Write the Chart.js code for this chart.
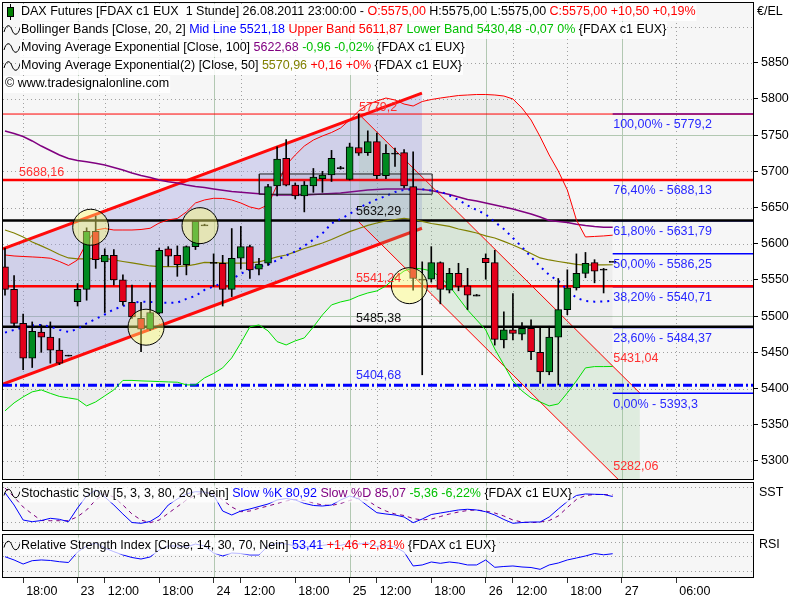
<!DOCTYPE html>
<html>
<head>
<meta charset="utf-8">
<script src="https://cdn.jsdelivr.net/npm/chart.js@4.4.1/dist/chart.umd.min.js"></script>
<style>
  html, body { margin:0; padding:0; background:#fff; }
  body { width:800px; height:600px; position:relative; overflow:hidden; }
  canvas { position:absolute; left:0; }
</style>
</head>
<body>
<canvas id="main" width="800" height="480" style="top:0px"></canvas>
<canvas id="sst" width="800" height="51" style="top:481px"></canvas>
<canvas id="rsi" width="800" height="68" style="top:532px"></canvas>
<script>
// ---------------- DATA (hourly bars, index 0 = 22.08 16:00) ----------------
const open  = [5568,5537,5490,5442,5478,5471,5453,5446,5520,5537,5617,5575,5584,5550,5519,5497,5482,5504,5593,5584,5571,5596,5626,5574,5573,5537,5580,5596,5565,5573,5680,5718,5681,5666,5680,5690,5695,5705,5689,5733,5726,5741,5694,5725,5726,5679,5551,5551,5574,5536,5559,5542,5529,5580,5574,5467,5481,5475,5483,5450,5423,5471,5509,5539,5559,5574,5564.5,5575];
const high  = [5594,5556,5503,5492,5488,5492,5469,5446,5545,5622,5638,5593,5592,5557,5543,5519,5546,5594,5596,5597,5597,5631,5627,5586,5584,5621,5624,5598,5580,5682,5734,5744,5684,5686,5704,5700,5729,5707,5739,5779.2,5756,5753,5737,5732,5730,5727,5575,5596,5575,5566,5573,5566,5530,5586,5591,5506,5531,5491,5495,5486,5486,5552,5564,5586,5588,5578,5566,5575];
const low   = [5529,5485,5426,5429,5450,5435,5433,5445,5514,5522,5566,5505,5543,5515,5497,5451,5480,5503,5569,5555,5557,5592,5625,5541,5514,5527,5565,5552,5557,5570,5666,5680,5662,5644,5671,5671,5686,5703,5688,5722,5722,5690,5690,5707,5677,5536,5419,5547,5517,5532,5535,5509,5528,5551,5460,5456,5467,5467,5440,5407,5419,5405,5502,5536,5553,5546,5532,5575];
const close = [5537,5490,5442,5479,5471,5453,5435,5445,5537,5617,5578,5584,5550,5520,5499,5482,5505,5591,5583,5571,5596,5631,5625,5573,5537,5580,5596,5564,5572,5679,5717,5681,5666,5681,5692,5695,5718,5704,5734,5725,5741,5694,5725,5724,5680,5552,5550,5574,5537,5559,5541,5529,5528,5574,5468,5481,5476,5483,5451,5423,5471,5509,5539,5559,5573,5562,5564,5575];

const bbMid   = [5477.2,5481,5484.4,5487.2,5487.9,5485.5,5481,5478.2,5482.3,5489.9,5496.1,5502.4,5509.3,5513.7,5518.5,5520,5519.6,5518.6,5518.6,5518.6,5523.8,5527.9,5536.2,5541,5545.9,5551.4,5558.3,5565.2,5568.9,5570.7,5577.6,5583.8,5589.4,5597,5605.7,5614.2,5628,5634.2,5641.1,5649.4,5655.6,5661.2,5666,5671.5,5674.3,5675.3,5675.3,5673.6,5672.2,5666.7,5660.5,5652.9,5646.7,5640.5,5630.1,5620.4,5608,5595.6,5581.8,5568.6,5556.9,5548.6,5536.2,5525.1,5521,5520,5520.3,5521.18];
const bbUpper = [5584.5,5583.1,5582.4,5581.8,5581.1,5580,5575.5,5570,5577.6,5601.1,5619,5621.1,5619,5619,5619,5619.7,5621.4,5628.7,5632.9,5634.9,5643.9,5656.3,5660.5,5662.8,5662.6,5660.5,5656.3,5650.8,5648,5653.6,5681.2,5708.8,5722.6,5735,5743.3,5748.9,5753.7,5759.9,5771,5783.4,5792.4,5797.2,5801.3,5798.6,5793,5790.3,5796.5,5799.3,5801.3,5803.1,5804.8,5805.5,5806.2,5806.2,5805.5,5804.1,5800,5787.5,5771,5747.9,5722.6,5700.5,5674.3,5632.9,5609.4,5610.1,5610.8,5611.87];
const bbLower = [5369.1,5380.1,5388.4,5395.4,5398.1,5393.3,5389.1,5387,5385,5376,5381.5,5389.8,5398.1,5411.2,5411.2,5410.5,5410.1,5409.6,5409.1,5408.7,5405,5405,5414.7,5420.9,5428.5,5442.3,5463,5485.1,5487.9,5479.6,5464.8,5460.2,5465.8,5469.9,5485.1,5501.7,5515.5,5519.6,5522.4,5527.9,5532,5534.8,5541.7,5552.8,5562.4,5566.6,5565.2,5562.4,5554.1,5541.7,5525.1,5508.6,5494.8,5481,5454.7,5432.6,5410.5,5396.7,5387,5381.5,5376,5378.7,5393.9,5410.5,5428.5,5430.3,5430.3,5430.48];
const ema100  = [5755.8,5752.3,5748.2,5742,5735,5728.8,5722.6,5717.8,5715,5713.4,5711.2,5708.8,5705.3,5701.9,5697.8,5694.3,5691.6,5688.1,5685.8,5684,5681.2,5679.1,5677.7,5675.7,5673.9,5672.2,5671.1,5670.1,5669.2,5668.1,5667.4,5667.4,5667.4,5667.4,5668.1,5668.8,5669.5,5670.1,5671.5,5672.9,5674.3,5675,5675.7,5675.7,5675.7,5675.7,5675,5673.6,5670.8,5668.1,5664.6,5661.2,5659.1,5656.3,5653.6,5650.8,5648,5644.6,5641.1,5637,5632.2,5630.8,5629.2,5627,5625.3,5623.9,5622.8,5622.68];
const ema50   = [5619,5614.9,5609.4,5602.5,5597,5591.4,5585.2,5580.4,5579,5579,5579.7,5579.7,5577.6,5575.5,5573.5,5571.4,5569.3,5568.4,5568.4,5568.4,5569.3,5571.4,5574.2,5573.9,5573.5,5573.1,5573.1,5573.5,5574.9,5578.3,5581.8,5584.5,5588.7,5593.5,5597,5601.1,5605.9,5611.5,5616.7,5621.1,5625.3,5628.7,5631.5,5633.5,5635.2,5633.5,5630.8,5628,5626,5623.9,5620.4,5617.7,5614.9,5610.8,5608,5603.2,5598.3,5592.8,5586.6,5580.4,5577.6,5575.5,5573.5,5571.4,5570.6,5570.7,5570.8,5570.96];

const stochK = [69.7,48.6,22.9,20,22,25.8,24.1,20,43.5,64.1,74.3,62.3,48.6,33.2,18.6,17.3,20.4,29.8,48.6,58.9,67.5,71.4,70.9,65.8,38.3,31.5,38.3,41.8,46.1,50.3,57.2,59.8,57.2,51.5,47.8,46.9,48.6,57.2,64.1,58.9,46.9,35.4,33.2,31.5,28.1,18.3,24.6,32.3,34.9,37.5,40.1,41.3,40.1,37.1,31.5,23.8,17.3,18.6,19.5,19.5,28.1,41.8,54.6,64.9,67.5,67,66.6,63.2];
const stochD = [77.8,62.3,45.2,33.2,22,21.7,21.7,21.7,28.6,40.1,57.2,67.5,62.3,48.6,33.2,22.9,18.3,22.9,34.4,45.7,57.2,65.8,70.1,69.2,57.2,45.2,37.1,38.3,43,46.9,51.2,55.5,58.1,56.3,52.1,48.6,47.8,51.2,56.3,60.6,56.3,45.7,38.3,33.2,30.6,25.5,22.9,24.6,28.9,33.2,36.6,39.2,40.1,38.3,34.9,29.8,22.9,19.5,18.3,19.5,22,29.8,44.3,58.1,64.9,66.6,66.6,65.8];
const rsi    = [49.3,44.8,39.2,43.8,44.8,44.1,42.4,41.3,55.8,64.1,68.2,61.3,56.2,51.7,48.2,46.1,48.9,58.6,64.1,64.1,62.7,66.8,64.1,54.4,50.3,54.4,53.7,51.7,51.7,64.1,68.2,66.8,64.1,62.7,64.1,64.8,66.8,64.8,68.2,66.8,68.2,63.4,65.4,62.7,55.8,36.5,37.9,42,40.2,42,40.6,37.9,37.9,44.8,34.7,35.8,36.5,35.1,34.4,31.9,37.9,40.6,44.8,47.5,50.3,53.7,51.95,53.41];

// drawing tools (bar index / price)
const upChannelX     = [-0.22, 45.97];
const upChannelUpper = [5592.8, 5808];
const upChannelLower = [5406, 5621.4];
const downChannelX     = [39, 70];
const downChannelUpper = [5779.2, 5393.7];
const downChannelLower = [5630.2, 5244.7];
const downChannelEnd   = [5431.04, 5282.06];   // values at bar 67
const levelValues = [5779.2, 5688.16, 5632.29, 5541.24, 5485.38, 5404.68];
const fibPct    = [100, 76.4, 61.8, 50, 38.2, 23.6, 0];
const fibValues = [5779.2, 5688.13, 5631.79, 5586.25, 5540.71, 5484.37, 5393.3];
const boxX = [28.04, 47.1];
const boxY = [5668.4, 5696.4];
const circleX = [9.45, 21.5, 15.55, 44.58];
const circleY = [5622.8, 5625, 5484.7, 5542.1];

// axes
const yTickValues = [5850,5800,5750,5700,5650,5600,5550,5500,5450,5400,5350,5300];
const yGridValues = [5900,5850,5800,5750,5700,5650,5600,5550,5500,5450,5400,5350,5300];
const xTickValues = [2,8,11,17,23,26,32,38,41,47,53,56,62,68,74];
const xTickLabels = ['18:00','23','12:00','18:00','24','12:00','18:00','25','12:00','18:00','26','12:00','18:00','27','06:00'];

// ---------------- STYLE ----------------
const FONT = '"Liberation Sans", Arial, sans-serif';
const FS = 12.5;
Chart.defaults.font.family = FONT;
Chart.defaults.font.size = FS;
Chart.defaults.animation = false;

const X_MIN = -0.22, X_MAX = 82.47;
const fmt = v => String(v).replace('.', ',');
const pts = arr => arr.map((v, i) => ({x: i, y: v}));
const seg = (xs, ys) => xs.map((x, k) => ({x, y: ys[k]}));
const dayTicks = xTickValues.filter((v, k) => xTickLabels[k].length <= 2);
const otherTicks = xTickValues.filter((v, k) => xTickLabels[k].length > 2);

const panel = {
  id: 'panel',
  beforeDatasetsDraw(chart, _a, o) {
    const {ctx, chartArea: a} = chart;
    const xs = chart.scales.x, ys = chart.scales.y;
    ctx.save();
    ctx.fillStyle = o.bg;
    ctx.fillRect(a.left, a.top, a.right - a.left, a.bottom - a.top);
    ctx.lineWidth = 1;
    const H = (v, col, dash) => {
      const p = Math.round(ys.getPixelForValue(v)) + 0.5;
      ctx.strokeStyle = col; ctx.setLineDash(dash);
      ctx.beginPath(); ctx.moveTo(a.left, p); ctx.lineTo(a.right, p); ctx.stroke();
    };
    const V = (v, col, dash) => {
      const p = Math.round(xs.getPixelForValue(v)) + 0.5;
      ctx.strokeStyle = col; ctx.setLineDash(dash);
      ctx.beginPath(); ctx.moveTo(p, a.top); ctx.lineTo(p, a.bottom); ctx.stroke();
    };
    (o.yDot || []).forEach(v => H(v, o.dotColor, [1, 3]));
    (o.xDot || []).forEach(v => V(v, o.dotColor, [1, 3]));
    (o.ySolid || []).forEach(v => H(v, o.solidColor, []));
    (o.xSolid || []).forEach(v => V(v, o.solidColor, []));
    ctx.restore();
  },
  afterDraw(chart) {
    const {ctx, chartArea: a} = chart;
    ctx.save();
    ctx.strokeStyle = '#000'; ctx.lineWidth = 1; ctx.setLineDash([]);
    ctx.strokeRect(Math.round(a.left) - 0.5, Math.round(a.top) - 0.5,
                   Math.round(a.right - a.left) + 1, Math.round(a.bottom - a.top) + 1);
    ctx.restore();
  }
};

function drawRuns(ctx, x, y, list, bg) {
  ctx.save();
  ctx.font = FS + 'px ' + FONT;
  ctx.textBaseline = 'middle'; ctx.textAlign = 'left';
  let w = 0; list.forEach(r => { w += ctx.measureText(r[0]).width; });
  if (bg) { ctx.fillStyle = bg; ctx.fillRect(x - 1, y - 8, w + 2, 17); }
  let cx = x;
  list.forEach(([t, c]) => { ctx.fillStyle = c; ctx.fillText(t, cx, y); cx += ctx.measureText(t).width; });
  ctx.restore();
}
function wave(ctx, x, y) {
  ctx.save(); ctx.strokeStyle = '#000'; ctx.lineWidth = 1; ctx.setLineDash([]);
  ctx.beginPath(); ctx.moveTo(x, y + 2);
  ctx.bezierCurveTo(x + 2, y - 6, x + 6, y - 6, x + 8, y);
  ctx.bezierCurveTo(x + 10, y + 6, x + 14, y + 6, x + 16, y - 2);
  ctx.stroke(); ctx.restore();
}

const BLK = '#000', RED = '#ff0000', BLU = '#0000ff', GRN = '#00c000', PUR = '#800080', OLV = '#808000';

const levelStyle = [
  {color: RED, width: 1, dash: []},
  {color: RED, width: 2.5, dash: []},
  {color: BLK, width: 2.5, dash: []},
  {color: RED, width: 2.5, dash: []},
  {color: BLK, width: 2.5, dash: []},
  {color: BLU, width: 3, dash: [9, 3, 2, 3]}
];
const levelText = [
  {color: '#ff3030', at: 39.03, dy: -6.5},
  {color: '#ff3030', at: 1.55, dy: -7.5},
  {color: '#101010', at: 38.7, dy: -8.7},
  {color: '#ff3030', at: 38.7, dy: -7.3},
  {color: '#101010', at: 38.7, dy: -8.2},
  {color: '#2828ff', at: 38.7, dy: -9.3}
];

const mainText = {
  id: 'mainText',
  afterDatasetsDraw(chart) {
    const {ctx} = chart; const xs = chart.scales.x, ys = chart.scales.y;
    ctx.save();
    ctx.font = FS + 'px ' + FONT; ctx.textBaseline = 'middle'; ctx.textAlign = 'left';
    levelValues.forEach((v, k) => {
      ctx.fillStyle = levelText[k].color;
      ctx.fillText(fmt(v), xs.getPixelForValue(levelText[k].at), ys.getPixelForValue(v) + levelText[k].dy);
    });
    fibValues.forEach((v, k) => {
      ctx.fillStyle = '#2828ff';
      ctx.fillText(fibPct[k].toFixed(2).replace('.', ',') + '% - ' + fmt(v),
                   xs.getPixelForValue(67) + 0.5, ys.getPixelForValue(v) + 10.7);
    });
    downChannelEnd.forEach(v => {
      ctx.fillStyle = '#ff3030';
      ctx.fillText(fmt(v), xs.getPixelForValue(67) + 0.5, ys.getPixelForValue(v) - 7.8);
    });
    ctx.restore();
  },
  afterDraw(chart) {
    const {ctx} = chart;
    const bg = 'rgba(255,255,255,0.85)';
    ctx.save();
    ctx.strokeStyle = '#000'; ctx.lineWidth = 1;
    ctx.beginPath(); ctx.moveTo(10.5, 4); ctx.lineTo(10.5, 20); ctx.stroke();
    ctx.fillStyle = '#008000'; ctx.fillRect(7, 7, 7, 10); ctx.strokeRect(7.5, 7.5, 6, 9);
    ctx.restore();
    drawRuns(ctx, 21, 12, [["DAX Futures [FDAX c1 EUX  1 Stunde] 26.08.2011 23:00:00 - ", BLK], ["O:5575,00", RED], [" H:5575,00 L:5575,00 ", BLK], ["C:5575,00 +10,50 +0,19%", RED]], bg);
    wave(ctx, 4, 30);
    drawRuns(ctx, 21, 30, [["Bollinger Bands [Close, 20, 2] ", BLK], ["Mid Line 5521,18 ", BLU], ["Upper Band 5611,87 ", RED], ["Lower Band 5430,48 -0,07 0% ", GRN], ["{FDAX c1 EUX}", BLK]], bg);
    wave(ctx, 4, 48);
    drawRuns(ctx, 21, 48, [["Moving Average Exponential [Close, 100] ", BLK], ["5622,68 ", PUR], ["-0,96 -0,02% ", GRN], ["{FDAX c1 EUX}", BLK]], bg);
    wave(ctx, 4, 66);
    drawRuns(ctx, 21, 66, [["Moving Average Exponential(2) [Close, 50] ", BLK], ["5570,96 ", OLV], ["+0,16 +0% ", RED], ["{FDAX c1 EUX}", BLK]], bg);
    drawRuns(ctx, 5, 84, [["© www.tradesignalonline.com", BLK]], bg);
    drawRuns(ctx, 757, 12, [["€/EL", BLK]], null);
  }
};

// ---------------- MAIN CHART ----------------
const idx = open.map((_, i) => i);
const isDoji = i => Math.abs(close[i] - open[i]) < 1.5;
const bodyColors = idx.map(i => isDoji(i) ? '#000' : (close[i] > open[i] ? '#008a20' : '#e4001b'));
const bodyData = idx.map(i => {
  const lo = Math.min(open[i], close[i]), hi = Math.max(open[i], close[i]);
  if (isDoji(i)) { const m = (lo + hi) / 2; return {x: i, y: [m - 0.8, m + 0.8]}; }
  return {x: i, y: [lo, hi]};
});

const lineDS = (data, color, width, order, extra) => Object.assign({
  type: 'line', data, borderColor: color, borderWidth: width, pointRadius: 0,
  fill: false, tension: 0, order
}, extra || {});

const datasets = [
  lineDS(pts(bbUpper), 'transparent', 1, 20, {fill: '+1', backgroundColor: 'rgba(0,0,0,0.035)'}),
  lineDS(pts(bbLower), 'transparent', 1, 19),
  lineDS(seg(upChannelX, upChannelUpper), '#ff0a0a', 3, 18, {fill: '+1', backgroundColor: 'rgba(160,160,225,0.38)'}),
  lineDS(seg(upChannelX, upChannelLower), '#ff0a0a', 3, 17),
  lineDS(seg(downChannelX, downChannelUpper), '#ff0000', 1, 16, {fill: '+1', backgroundColor: 'rgba(140,200,140,0.22)'}),
  lineDS(seg(downChannelX, downChannelLower), '#ff0000', 1, 15),
];
fibValues.forEach(v => datasets.push(lineDS(seg([67, X_MAX], [v, v]), '#0000ff', 1.5, 14)));
levelValues.forEach((v, k) => datasets.push(lineDS(seg([X_MIN, X_MAX], [v, v]), levelStyle[k].color, levelStyle[k].width, 13, {borderDash: levelStyle[k].dash})));
datasets.push(
  lineDS(pts(bbUpper), '#ff0000', 1, 12),
  lineDS(pts(bbLower), '#00e000', 1, 12),
  lineDS(pts(bbMid), '#0000ff', 2, 12, {borderDash: [2, 5]}),
  lineDS(pts(ema100), '#800080', 1.5, 12),
  lineDS(pts(ema50), '#808000', 1.2, 12),
  lineDS(seg([boxX[0], boxX[1], boxX[1], boxX[0], boxX[0]], [boxY[0], boxY[0], boxY[1], boxY[1], boxY[0]]), '#202020', 1, 11, {fill: 'shape', backgroundColor: 'rgba(110,110,170,0.12)'}),
  {type: 'bar', data: idx.map(i => ({x: i, y: [low[i], high[i]]})), backgroundColor: '#000', barThickness: 1, grouped: false, order: 5},
  {type: 'bar', data: bodyData, backgroundColor: bodyColors, borderColor: '#000', borderWidth: 1, borderSkipped: false, barThickness: 7, grouped: false, order: 4},
  {type: 'line', data: seg(circleX, circleY), showLine: false, pointRadius: 18, pointHoverRadius: 18, pointStyle: 'circle',
   pointBackgroundColor: 'rgba(255,255,110,0.42)', pointBorderColor: '#000', pointBorderWidth: 1, order: 1}
);

const panelOpts = (yDot, ySolid, xDot, xSolid) => ({bg: '#f6f6f6', dotColor: '#a0a0a0', solidColor: '#b2c8b2', yDot, ySolid, xDot, xSolid});

new Chart(document.getElementById('main'), {
  type: 'bar',
  data: {datasets},
  options: {
    responsive: false, animation: false,
    layout: {autoPadding: false, padding: {left: 3, top: 3, right: 0, bottom: 1}},
    plugins: {
      legend: {display: false}, tooltip: {enabled: false},
      panel: panelOpts(yGridValues.filter(v => v % 250 !== 0), yGridValues.filter(v => v % 250 === 0), otherTicks, dayTicks)
    },
    scales: {
      x: {type: 'linear', display: false, min: X_MIN, max: X_MAX, offset: false},
      y: {
        position: 'right', min: 5275, max: 5932.6,
        afterBuildTicks: s => { s.ticks = yTickValues.map(v => ({value: v})); },
        ticks: {color: '#000', padding: 3, autoSkip: false, font: {size: FS, family: FONT}, callback: v => String(v)},
        grid: {drawOnChartArea: false, drawTicks: true, tickLength: 5, tickColor: '#000'},
        border: {display: false},
        afterFit: s => { s.width = 47; s.paddingTop = 0; s.paddingBottom = 0; }
      }
    }
  },
  plugins: [panel, mainText]
});

// ---------------- STOCHASTIC ----------------
const sstText = {
  id: 'sstText',
  afterDraw(chart) {
    const {ctx} = chart;
    wave(ctx, 4, 12.5);
    drawRuns(ctx, 21, 12.5, [["Stochastic Slow [5, 3, 3, 80, 20, Nein] ", BLK], ["Slow %K 80,92 ", BLU], ["Slow %D 85,07 ", PUR], ["-5,36 -6,22% ", GRN], ["{FDAX c1 EUX}", BLK]], 'rgba(255,255,255,0.72)');
    drawRuns(ctx, 759, 12, [["SST", BLK]], null);
  }
};
new Chart(document.getElementById('sst'), {
  type: 'line',
  data: {datasets: [
    lineDS(pts(stochD), '#800080', 1, 2, {borderDash: [4, 4]}),
    lineDS(pts(stochK), '#0000ff', 1, 1)
  ]},
  options: {
    responsive: false, animation: false,
    layout: {autoPadding: false, padding: {left: 3, top: 2, right: 47, bottom: 2}},
    plugins: {legend: {display: false}, tooltip: {enabled: false}, panel: panelOpts([20, 80], [], [], dayTicks)},
    scales: {
      x: {type: 'linear', display: false, min: X_MIN, max: X_MAX, offset: false},
      y: {display: false, min: 5.8, max: 86.3}
    }
  },
  plugins: [panel, sstText]
});

// ---------------- RSI ----------------
const rsiText = {
  id: 'rsiText',
  afterDraw(chart) {
    const {ctx} = chart;
    wave(ctx, 4, 13.5);
    drawRuns(ctx, 21, 13.5, [["Relative Strength Index [Close, 14, 30, 70, Nein] ", BLK], ["53,41 ", BLU], ["+1,46 +2,81% ", RED], ["{FDAX c1 EUX}", BLK]], 'rgba(255,255,255,0.72)');
    drawRuns(ctx, 759, 13, [["RSI", BLK]], null);
  }
};
new Chart(document.getElementById('rsi'), {
  type: 'line',
  data: {datasets: [lineDS(pts(rsi), '#0000ff', 1, 1)]},
  options: {
    responsive: false, animation: false,
    layout: {autoPadding: false, padding: {left: 3, top: 3, right: 47, bottom: 0}},
    plugins: {legend: {display: false}, tooltip: {enabled: false}, panel: panelOpts([30, 50, 70], [], [], dayTicks)},
    scales: {
      x: {
        type: 'linear', min: X_MIN, max: X_MAX, offset: false,
        afterBuildTicks: s => { s.ticks = xTickValues.map(v => ({value: v})); },
        ticks: {autoSkip: false, maxRotation: 0, minRotation: 0, align: 'start', labelOffset: 3, padding: 1, color: '#000',
                font: {size: FS, family: FONT}, callback: (v, k) => xTickLabels[k]},
        grid: {drawOnChartArea: false, drawTicks: true, tickLength: 6, tickColor: '#333'},
        border: {display: false},
        afterFit: s => { s.height = 23; s.paddingLeft = 0; s.paddingRight = 0; }
      },
      y: {display: false, min: 21.3, max: 79.24}
    }
  },
  plugins: [panel, rsiText]
});
</script>
</body>
</html>
